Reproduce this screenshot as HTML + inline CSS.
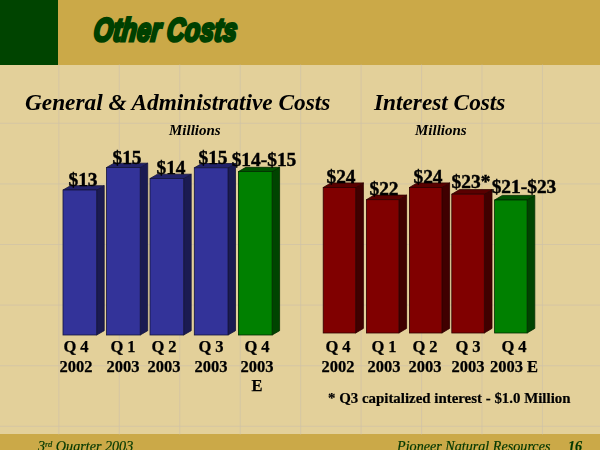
<!DOCTYPE html>
<html><head><meta charset="utf-8"><title>Other Costs</title>
<style>
html,body{margin:0;padding:0}
body{width:600px;height:450px;overflow:hidden;position:relative;background:#e3d09a;font-family:"Liberation Serif",serif;color:#000}
#hdr{position:absolute;left:0;top:0;width:600px;height:64.6px;background:#cba948}
#blk{position:absolute;left:0;top:0;width:57.6px;height:64.6px;background:#004400}
#ftr{position:absolute;left:0;top:434.4px;width:600px;height:16px;background:#cba948}
#title{position:absolute;left:96px;top:10.3px;font-family:"Liberation Sans",sans-serif;font-weight:bold;font-style:italic;font-size:32.6px;line-height:40px;color:#004000;white-space:nowrap;transform-origin:0 0;transform:scaleX(0.76) skewX(-8deg);-webkit-text-stroke:3px #004000;letter-spacing:0.4px;word-spacing:-2px;paint-order:stroke fill}
svg{position:absolute;left:0;top:0}
svg line{stroke:#cec1a8;stroke-width:0.7}
.h,.m,.v,.c,.n,.f{will-change:transform}
.h{position:absolute;font-weight:bold;font-style:italic;font-size:23.3px;line-height:26px;white-space:nowrap}
.m{position:absolute;font-weight:bold;font-style:italic;font-size:15px;line-height:16px;white-space:nowrap}
.v{position:absolute;width:120px;text-align:center;font-weight:bold;font-size:19.4px;line-height:22px;white-space:nowrap;-webkit-text-stroke:0.45px #000}
.c{position:absolute;width:120px;text-align:center;font-weight:bold;font-size:16.5px;line-height:19.5px;white-space:nowrap;-webkit-text-stroke:0.25px #000}
.n{position:absolute;font-weight:bold;font-size:14.9px;line-height:16px;white-space:nowrap;-webkit-text-stroke:0.2px #000}
.f{position:absolute;font-style:italic;font-size:14.15px;line-height:16px;white-space:nowrap;color:#003800;-webkit-text-stroke:0.2px #003800}
</style></head><body>
<div id="hdr"></div><div id="blk"></div><div id="ftr"></div>
<svg width="600" height="450" viewBox="0 0 600 450">
<g><line x1="58.85" y1="64.6" x2="58.85" y2="434.4" /><line x1="119.3" y1="64.6" x2="119.3" y2="434.4" /><line x1="179.75" y1="64.6" x2="179.75" y2="434.4" /><line x1="240.2" y1="64.6" x2="240.2" y2="434.4" /><line x1="300.65" y1="64.6" x2="300.65" y2="434.4" /><line x1="361.1" y1="64.6" x2="361.1" y2="434.4" /><line x1="421.55" y1="64.6" x2="421.55" y2="434.4" /><line x1="482.0" y1="64.6" x2="482.0" y2="434.4" /><line x1="542.45" y1="64.6" x2="542.45" y2="434.4" /><line x1="0" y1="123.3" x2="600" y2="123.3" /><line x1="0" y1="183.9" x2="600" y2="183.9" /><line x1="0" y1="244.5" x2="600" y2="244.5" /><line x1="0" y1="305.1" x2="600" y2="305.1" /><line x1="0" y1="365.7" x2="600" y2="365.7" /><line x1="0" y1="426.3" x2="600" y2="426.3" /></g>
<polygon points="96.7,190 104.2,185.7 104.2,330.7 96.7,335" fill="#1b1b52" stroke="#15153c" stroke-width="0.8"/><polygon points="63,190 70.5,185.7 104.2,185.7 96.7,190" fill="#22226a" stroke="#15153c" stroke-width="0.8"/><rect x="63" y="190" width="33.7" height="145" fill="#333399" stroke="#15153c" stroke-width="0.8"/>
<polygon points="140.2,167.5 147.7,163.2 147.7,330.7 140.2,335" fill="#1b1b52" stroke="#15153c" stroke-width="0.8"/><polygon points="106.5,167.5 114.0,163.2 147.7,163.2 140.2,167.5" fill="#22226a" stroke="#15153c" stroke-width="0.8"/><rect x="106.5" y="167.5" width="33.7" height="167.5" fill="#333399" stroke="#15153c" stroke-width="0.8"/>
<polygon points="183.7,178.5 191.2,174.2 191.2,330.7 183.7,335" fill="#1b1b52" stroke="#15153c" stroke-width="0.8"/><polygon points="150,178.5 157.5,174.2 191.2,174.2 183.7,178.5" fill="#22226a" stroke="#15153c" stroke-width="0.8"/><rect x="150" y="178.5" width="33.7" height="156.5" fill="#333399" stroke="#15153c" stroke-width="0.8"/>
<polygon points="228.0,167.8 235.5,163.5 235.5,330.7 228.0,335" fill="#1b1b52" stroke="#15153c" stroke-width="0.8"/><polygon points="194.3,167.8 201.8,163.5 235.5,163.5 228.0,167.8" fill="#22226a" stroke="#15153c" stroke-width="0.8"/><rect x="194.3" y="167.8" width="33.7" height="167.2" fill="#333399" stroke="#15153c" stroke-width="0.8"/>
<polygon points="272.1,171.6 279.6,167.29999999999998 279.6,330.7 272.1,335" fill="#004400" stroke="#002c00" stroke-width="0.8"/><polygon points="238.4,171.6 245.9,167.29999999999998 279.6,167.29999999999998 272.1,171.6" fill="#005200" stroke="#002c00" stroke-width="0.8"/><rect x="238.4" y="171.6" width="33.7" height="163.4" fill="#008000" stroke="#002c00" stroke-width="0.8"/>
<polygon points="355.7,187.5 363.4,182.9 363.4,328.4 355.7,333" fill="#400000" stroke="#300000" stroke-width="0.8"/><polygon points="323.2,187.5 330.9,182.9 363.4,182.9 355.7,187.5" fill="#5a0000" stroke="#300000" stroke-width="0.8"/><rect x="323.2" y="187.5" width="32.5" height="145.5" fill="#800000" stroke="#300000" stroke-width="0.8"/>
<polygon points="398.9,199.7 406.59999999999997,195.1 406.59999999999997,328.4 398.9,333" fill="#400000" stroke="#300000" stroke-width="0.8"/><polygon points="366.4,199.7 374.09999999999997,195.1 406.59999999999997,195.1 398.9,199.7" fill="#5a0000" stroke="#300000" stroke-width="0.8"/><rect x="366.4" y="199.7" width="32.5" height="133.3" fill="#800000" stroke="#300000" stroke-width="0.8"/>
<polygon points="441.9,187.5 449.59999999999997,182.9 449.59999999999997,328.4 441.9,333" fill="#400000" stroke="#300000" stroke-width="0.8"/><polygon points="409.4,187.5 417.09999999999997,182.9 449.59999999999997,182.9 441.9,187.5" fill="#5a0000" stroke="#300000" stroke-width="0.8"/><rect x="409.4" y="187.5" width="32.5" height="145.5" fill="#800000" stroke="#300000" stroke-width="0.8"/>
<polygon points="484.3,194.2 492.0,189.6 492.0,328.4 484.3,333" fill="#400000" stroke="#300000" stroke-width="0.8"/><polygon points="451.8,194.2 459.5,189.6 492.0,189.6 484.3,194.2" fill="#5a0000" stroke="#300000" stroke-width="0.8"/><rect x="451.8" y="194.2" width="32.5" height="138.8" fill="#800000" stroke="#300000" stroke-width="0.8"/>
<polygon points="527.1,200 534.8000000000001,195.4 534.8000000000001,328.4 527.1,333" fill="#004400" stroke="#002c00" stroke-width="0.8"/><polygon points="494.6,200 502.3,195.4 534.8000000000001,195.4 527.1,200" fill="#005200" stroke="#002c00" stroke-width="0.8"/><rect x="494.6" y="200" width="32.5" height="133" fill="#008000" stroke="#002c00" stroke-width="0.8"/>
</svg>
<div id="title">Other Costs</div>
<div class="h" style="left:24.5px;top:89px">General &amp; Administrative Costs</div>
<div class="h" style="left:374px;top:89px">Interest Costs</div>
<div class="m" style="left:169.2px;top:121.5px">Millions</div>
<div class="m" style="left:415px;top:121.5px">Millions</div>
<div class="v" style="left:22.700000000000003px;top:168.7px">$13</div>
<div class="v" style="left:66.6px;top:146.7px">$15</div>
<div class="v" style="left:111px;top:157.4px">$14</div>
<div class="v" style="left:153px;top:146.9px">$15</div>
<div class="v" style="left:203.7px;top:149.3px">$14-$15</div>
<div class="v" style="left:281.2px;top:166.4px">$24</div>
<div class="v" style="left:324.3px;top:178.4px">$22</div>
<div class="v" style="left:367.5px;top:166.4px">$24</div>
<div class="v" style="left:411px;top:171.4px">$23*</div>
<div class="v" style="left:463.79999999999995px;top:176.4px">$21-$23</div>
<div class="c" style="left:16px;top:336.5px">Q 4<br>2002</div>
<div class="c" style="left:62.5px;top:336.5px">Q 1<br>2003</div>
<div class="c" style="left:104px;top:336.5px">Q 2<br>2003</div>
<div class="c" style="left:151px;top:336.5px">Q 3<br>2003</div>
<div class="c" style="left:196.5px;top:336.5px">Q 4<br>2003<br>E</div>
<div class="c" style="left:278px;top:336.5px">Q 4<br>2002</div>
<div class="c" style="left:324px;top:336.5px">Q 1<br>2003</div>
<div class="c" style="left:365px;top:336.5px">Q 2<br>2003</div>
<div class="c" style="left:408px;top:336.5px">Q 3<br>2003</div>
<div class="c" style="left:454px;top:336.5px">Q 4<br>2003 E</div>

<div class="n" style="left:328px;top:389.5px">* Q3 capitalized interest - $1.0 Million</div>
<div class="f" style="left:37.5px;top:437.7px">3<sup style="font-size:8.5px;line-height:0;vertical-align:4.5px">rd</sup> Quarter 2003</div>
<div class="f" style="left:396.5px;top:437.7px">Pioneer Natural Resources</div>
<div class="f" style="left:568px;top:437.7px;font-weight:bold">16</div>
</body></html>
